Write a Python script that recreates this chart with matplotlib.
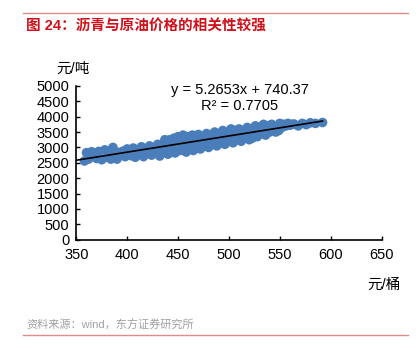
import numpy as np
import matplotlib
matplotlib.use('Agg')
import matplotlib.pyplot as plt
from matplotlib.lines import Line2D

plt.rcParams['font.family'] = ['Liberation Sans', 'Noto Sans CJK SC']

# Oil price (元/桶) vs asphalt price (元/吨)
oil = [358, 360, 362, 365, 368, 370, 372, 375, 378, 380, 382, 384, 386, 388, 390,
       392, 395, 398, 400, 402, 404, 406, 408, 410, 412, 414, 416, 418, 420, 422,
       424, 426, 428, 430, 432, 434, 436, 438, 440, 442, 443, 444, 446, 447, 448,
       450, 451, 452, 454, 455, 456, 458, 460, 461, 462, 464, 465, 466, 468, 470,
       471, 472, 474, 475, 476, 478, 479, 480, 482, 483, 484, 486, 487, 488, 490,
       491, 492, 494, 495, 496, 498, 499, 500, 502, 503, 504, 506, 507, 508, 510,
       511, 512, 514, 515, 516, 518, 519, 520, 522, 524, 526, 527, 528, 530, 532,
       534, 535, 536, 538, 540, 542, 544, 546, 548, 550, 552, 554, 556, 558, 560,
       564, 568, 572, 576, 580, 585, 592,
       # extra points filling the dense middle of the cloud
       396, 405, 415, 425, 433, 437, 441, 445, 449, 453, 457, 459, 463, 467, 469,
       473, 477, 481, 485, 489, 493, 497, 501, 505, 509, 513, 517, 521, 523, 525,
       529, 531, 533, 537, 539, 543, 547, 549, 553, 562]
asphalt = [2560, 2830, 2620, 2860, 2700, 2640, 2870, 2600, 2920, 2680, 2880, 2620, 3000, 2700, 2620,
           2840, 2760, 2700, 2950, 2800, 2730, 2980, 2680, 2880, 2780, 3020, 2700, 2920, 2820, 3050,
           2750, 2950, 2860, 3100, 2720, 3000, 2880, 3150, 2780, 3250, 3050, 2930, 3300, 2820, 3150,
           3350, 3000, 2900, 3250, 3400, 3100, 2850, 3350, 3200, 3000, 3400, 2900, 3300, 3100, 3420,
           3250, 2950, 3350, 3150, 3050, 3450, 3300, 3000, 3400, 3200, 3100, 3500, 3350, 3050, 3450,
           3250, 3150, 3550, 3350, 3100, 3500, 3300, 3200, 3600, 3400, 3150, 3550, 3300, 3250, 3600,
           3450, 3200, 3550, 3350, 3300, 3650, 3450, 3250, 3600, 3400, 3700, 3500, 3350, 3650, 3450,
           3750, 3550, 3400, 3700, 3500, 3750, 3600, 3500, 3700, 3780, 3650, 3750, 3700, 3780, 3720,
           3760, 3700, 3780, 3740, 3800, 3780, 3810,
           2880, 2850, 2820, 2880, 2950, 3250, 3100, 3180, 3250, 3050, 3250, 3000, 3150, 3200, 3000,
           3200, 3150, 3300, 3300, 3350, 3400, 3400, 3450, 3400, 3450, 3500, 3450, 3500, 3300, 3550,
           3550, 3600, 3500, 3600, 3650, 3600, 3650, 3550, 3700, 3750]

slope = 5.2653
intercept = 740.37
r2 = 0.7705

title = '图 24：沥青与原油价格的相关性较强'
source = '资料来源：wind，东方证券研究所'

fig = plt.figure(figsize=(4.17, 3.49), dpi=100)
ax = fig.add_axes([0.183, 0.313, 0.732, 0.441])

ax.scatter(oil, asphalt, s=48, color='#4a7ebb', edgecolors='none', zorder=2)
xs = np.array([350, max(oil)])
ax.plot(xs, slope * xs + intercept, color='black', linewidth=1.2, zorder=3)

ax.set_xlim(350, 650)
ax.set_ylim(0, 5000)
ax.set_xticks(range(350, 651, 50))
ax.set_yticks(range(0, 5001, 500))
ax.tick_params(direction='in', length=3, width=1, labelsize=10.5, colors='black')
ax.tick_params(axis='x', pad=6)
ax.tick_params(axis='y', pad=5)
for s in ['top', 'right']:
    ax.spines[s].set_visible(False)
for s in ['left', 'bottom']:
    ax.spines[s].set_linewidth(1.2)

ax.text(0.535, 0.97, f'y = {slope}x + {intercept}', transform=ax.transAxes,
        ha='center', va='center', fontsize=10.5)
ax.text(0.535, 0.87, f'R² = {r2}', transform=ax.transAxes,
        ha='center', va='center', fontsize=10.5)

fig.text(73 / 417, 1 - 69 / 349, '元/吨', ha='center', va='center', fontsize=10.5)
fig.text(384 / 417, 1 - 285 / 349, '元/桶', ha='center', va='center', fontsize=10.5)

fig.text(26 / 417, 1 - 27 / 349, title, ha='left', va='center', fontsize=10.5,
         fontweight='bold', color='#d0101b')
fig.text(26 / 417, 1 - 325 / 349, source, ha='left', va='center', fontsize=8,
         color='#a0a0a0')

fig.add_artist(Line2D([23 / 417, 408 / 417], [1 - 13 / 349] * 2, color='#e08a8a', linewidth=1))
fig.add_artist(Line2D([23 / 417, 408 / 417], [1 - 335 / 349] * 2, color='#e08a8a', linewidth=1))

fig.savefig('out.png', dpi=100)
